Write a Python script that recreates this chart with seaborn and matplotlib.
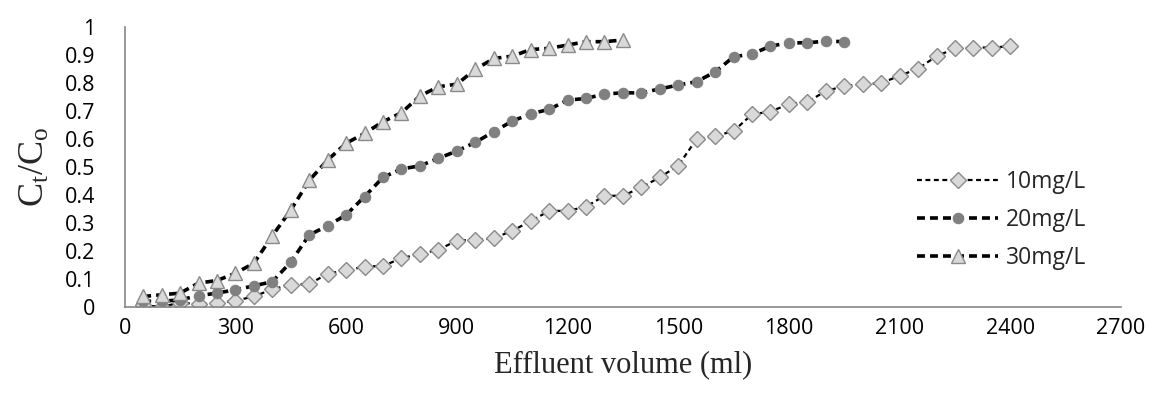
import numpy as np
import pandas as pd
import matplotlib
matplotlib.use("Agg")
import matplotlib.pyplot as plt
import seaborn as sns

# effluent volume (ml) for each series
vol_10 = np.arange(50, 2401, 50)
vol_20 = np.arange(50, 1951, 50)
vol_30 = np.arange(50, 1351, 50)

# Ct/Co
ct_10 = [0.005, 0.0, 0.015, 0.01, 0.013, 0.022, 0.037, 0.063, 0.079, 0.081,
         0.119, 0.13, 0.144, 0.146, 0.174, 0.189, 0.204, 0.237, 0.239, 0.245,
         0.272, 0.306, 0.343, 0.343, 0.358, 0.397, 0.397, 0.427, 0.463, 0.505,
         0.6, 0.61, 0.629, 0.688, 0.698, 0.725, 0.733, 0.771, 0.79, 0.795,
         0.8, 0.826, 0.852, 0.896, 0.924, 0.927, 0.927, 0.932]
ct_20 = [0.02, 0.02, 0.025, 0.04, 0.049, 0.061, 0.075, 0.09, 0.16, 0.257,
         0.29, 0.329, 0.394, 0.463, 0.493, 0.504, 0.531, 0.557, 0.588, 0.626,
         0.664, 0.69, 0.706, 0.739, 0.745, 0.761, 0.765, 0.765, 0.779, 0.793,
         0.805, 0.84, 0.894, 0.904, 0.932, 0.944, 0.944, 0.95, 0.948]
ct_30 = [0.037, 0.043, 0.049, 0.085, 0.094, 0.12, 0.156, 0.254, 0.346, 0.452,
         0.525, 0.585, 0.62, 0.662, 0.694, 0.754, 0.787, 0.796, 0.849, 0.888,
         0.896, 0.92, 0.924, 0.936, 0.948, 0.948, 0.954]

labels = ["10mg/L", "20mg/L", "30mg/L"]
x_ticks = list(range(0, 2701, 300))
y_ticks = [0, 0.1, 0.2, 0.3, 0.4, 0.5, 0.6, 0.7, 0.8, 0.9, 1]

sns.set_style("white")
plt.rcParams['font.family'] = ['Open Sans', 'DejaVu Sans']
plt.rcParams['mathtext.fontset'] = 'custom'
plt.rcParams['mathtext.rm'] = 'Liberation Serif'
plt.rcParams['mathtext.it'] = 'Liberation Serif'

fig, ax = plt.subplots(figsize=(11.55, 3.99), dpi=100)
fig.subplots_adjust(left=0.108, right=0.9706, top=0.932, bottom=0.231)

axis_grey = "#868686"

sns.lineplot(x=vol_10, y=ct_10, ax=ax, color="black", linewidth=1.6,
             linestyle=(0, (2.2, 1.6)), marker="D", markersize=8.5,
             markerfacecolor="#d9d9d9", markeredgecolor="#8a8a8a",
             markeredgewidth=1.0, label=labels[0])
sns.lineplot(x=vol_20, y=ct_20, ax=ax, color="black", linewidth=2.6,
             linestyle=(0, (2.2, 1.4)), marker="o", markersize=7.5,
             markerfacecolor="#808080", markeredgecolor="#808080",
             markeredgewidth=0.8, label=labels[1])
sns.lineplot(x=vol_30, y=ct_30, ax=ax, color="black", linewidth=2.6,
             linestyle=(0, (2.2, 1.4)), marker="^", markersize=10.5,
             markerfacecolor="#d9d9d9", markeredgecolor="#8a8a8a",
             markeredgewidth=1.0, label=labels[2])

ax.set_xlim(0, 2700)
ax.set_ylim(0, 1)
ax.set_xticks(x_ticks)
ax.set_yticks(y_ticks)
ax.set_yticklabels(["0" if v == 0 else ("1" if v == 1 else f"{v:g}") for v in y_ticks])
ax.tick_params(axis="both", labelsize=15.5, colors="black", width=1,
               color=axis_grey, direction="out")
ax.tick_params(axis="x", length=6, pad=2)
ax.tick_params(axis="y", length=7, pad=14)

for side in ["top", "right"]:
    ax.spines[side].set_visible(False)
for side in ["left", "bottom"]:
    ax.spines[side].set_color(axis_grey)
    ax.spines[side].set_linewidth(1.2)

ax.set_xlabel("Effluent volume (ml)", family="Liberation Serif", fontsize=22,
              labelpad=8)
ax.set_ylabel(r"$\mathrm{C_t/C_o}$", fontsize=26, labelpad=9)

leg = ax.legend(loc="center left", bbox_to_anchor=(0.775, 0.31), frameon=False,
                fontsize=16.5, handlelength=3.5, handletextpad=0.35,
                labelspacing=0.62)

fig.savefig("out.png", dpi=100)
